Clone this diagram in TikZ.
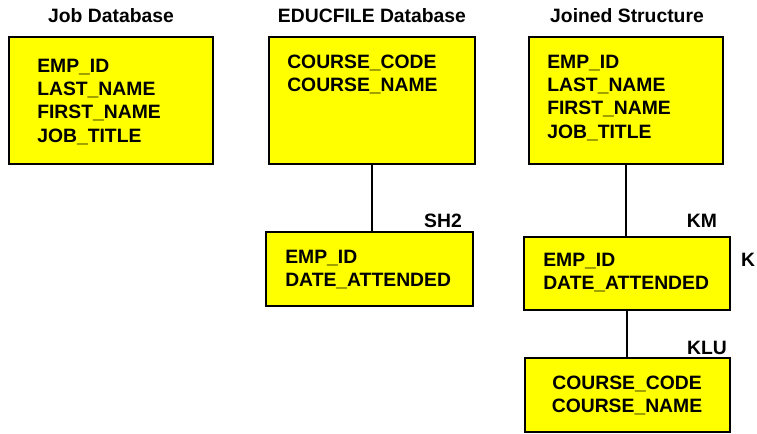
\documentclass[tikz,border=0pt]{standalone}
\usepackage{fontspec}
\setmainfont{Liberation Sans}
\definecolor{boxyellow}{RGB}{255,255,0}
\begin{document}
\begin{tikzpicture}[
  x=0.75pt, y=-0.75pt,
  boxsty/.style={draw, fill=boxyellow, line width=1.1pt, inner sep=0pt},
  fieldsty/.style={font=\fontsize{14.5}{17.5}\selectfont\bfseries, align=left, inner sep=0pt, anchor=north west},
  titlesty/.style={font=\fontsize{14.5}{16}\selectfont\bfseries, inner sep=0pt},
  keysty/.style={font=\fontsize{14.5}{17}\selectfont\bfseries, inner sep=0pt},
  linksty/.style={line width=1.1pt}]

\useasboundingbox (0,0) rectangle (757,433);

% Job Database
\node[titlesty] (jobtitle) at (111,16) {Job Database};
\node[boxsty, minimum width=153pt, minimum height=95.25pt] (jobbox) at (111,100.5) {};
\node[fieldsty] (jobfields) at (37,58.5) {EMP\_ID\\LAST\_NAME\\FIRST\_NAME\\JOB\_TITLE};

% EDUCFILE Database
\node[titlesty] (eductitle) at (372,16) {EDUCFILE Database};
\node[boxsty, minimum width=154.5pt, minimum height=95.25pt] (educbox) at (372,100.5) {};
\node[fieldsty] (educfields) at (287,54.5) {COURSE\_CODE\\COURSE\_NAME};
\node[boxsty, minimum width=155.25pt, minimum height=55.5pt] (shbox) at (369.5,269) {};
\node[fieldsty] (shfields) at (285,249.5) {EMP\_ID\\DATE\_ATTENDED};
\node[keysty] (shkey) at (443,221) {SH2};
\draw[linksty] (educbox.south) -- (educbox.south |- shbox.north);

% Joined Structure
\node[titlesty] (jointitle) at (627,16) {Joined Structure};
\node[boxsty, minimum width=145.5pt, minimum height=95.25pt] (joinbox) at (626,100.5) {};
\node[fieldsty] (joinfields) at (547,54.5) {EMP\_ID\\LAST\_NAME\\FIRST\_NAME\\JOB\_TITLE};
\node[boxsty, minimum width=154.5pt, minimum height=54.75pt] (kmbox) at (627,273.5) {};
\node[fieldsty] (kmfields) at (543,252.5) {EMP\_ID\\DATE\_ATTENDED};
\node[keysty] (kmkey) at (702,221) {KM};
\node[keysty] (kkey) at (748,260) {K};
\node[boxsty, minimum width=153.75pt, minimum height=55.5pt] (klubox) at (627.5,395) {};
\node[fieldsty, align=center, anchor=north] (klufields) at (627,375.5) {COURSE\_CODE\\COURSE\_NAME};
\node[keysty] (klukey) at (707,348) {KLU};
\draw[linksty] (joinbox.south) -- (joinbox.south |- kmbox.north);
\draw[linksty] (kmbox.south) -- (kmbox.south |- klubox.north);

\end{tikzpicture}
\end{document}
